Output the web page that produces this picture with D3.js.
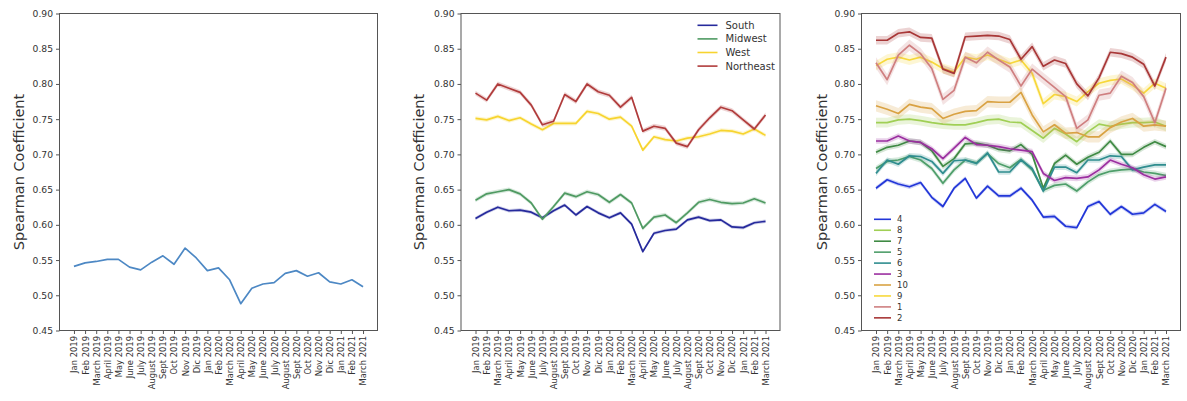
<!DOCTYPE html>
<html>
<head>
<meta charset="utf-8">
<script src="https://cdn.jsdelivr.net/npm/d3@7"></script>
<style>
  html, body { margin: 0; padding: 0; background: #fff; }
  svg { display: block; }
  text { font-family: "DejaVu Sans", sans-serif; }
</style>
</head>
<body>
<svg id="chart" width="1187" height="401"></svg>
<script>
// ---------- data ----------
const months = ["Jan 2019","Feb 2019","March 2019","April 2019","May 2019","June 2019","July 2019","August 2019","Sept 2019","Oct 2019","Nov 2019","Dic 2019","Jan 2020","Feb 2020","March 2020","April 2020","May 2020","June 2020","July 2020","August 2020","Sept 2020","Oct 2020","Nov 2020","Dic 2020","Jan 2021","Feb 2021","March 2021"];
const yTicks = [0.45, 0.50, 0.55, 0.60, 0.65, 0.70, 0.75, 0.80, 0.85, 0.90];
const yLabel = "Spearman Coefficient";

// panel 1 : all
const allValues = [0.541,0.546,0.548,0.551,0.551,0.540,0.536,0.547,0.556,0.544,0.567,0.553,0.535,0.539,0.522,0.488,0.510,0.516,0.518,0.531,0.535,0.527,0.532,0.519,0.516,0.522,0.512];

// panel 2 : regions
const regionNames = ["South","Midwest","West","Northeast"];
const south     = [0.609,0.618,0.625,0.620,0.621,0.618,0.610,0.620,0.628,0.614,0.626,0.617,0.610,0.617,0.601,0.562,0.588,0.592,0.594,0.607,0.611,0.606,0.607,0.597,0.596,0.603,0.605];
const midwest   = [0.635,0.644,0.647,0.650,0.644,0.631,0.608,0.626,0.645,0.640,0.647,0.643,0.632,0.643,0.631,0.595,0.611,0.614,0.603,0.617,0.632,0.636,0.632,0.630,0.631,0.637,0.631];
const west      = [0.751,0.749,0.754,0.748,0.752,0.743,0.735,0.744,0.744,0.744,0.761,0.758,0.750,0.753,0.740,0.706,0.725,0.721,0.719,0.723,0.725,0.729,0.734,0.733,0.729,0.736,0.727];
const northeast = [0.787,0.777,0.800,0.794,0.788,0.770,0.742,0.747,0.785,0.775,0.800,0.789,0.784,0.767,0.781,0.733,0.740,0.737,0.716,0.711,0.735,0.752,0.767,0.762,0.749,0.736,0.756];
const regionCI  = [0.0025,0.003,0.003,0.0035];

// panel 3 : clusters (legend order)
const clusterNames = ["4","8","7","5","6","3","10","9","1","2"];
const c4  = [0.652,0.664,0.658,0.654,0.660,0.639,0.626,0.652,0.666,0.638,0.655,0.641,0.641,0.652,0.635,0.611,0.612,0.598,0.596,0.626,0.633,0.615,0.626,0.615,0.617,0.629,0.619];
const c8  = [0.745,0.745,0.749,0.750,0.748,0.745,0.743,0.742,0.742,0.745,0.749,0.750,0.746,0.745,0.734,0.723,0.737,0.729,0.718,0.732,0.743,0.740,0.743,0.745,0.745,0.746,0.740];
const c7  = [0.703,0.710,0.713,0.719,0.717,0.705,0.683,0.694,0.715,0.716,0.713,0.707,0.705,0.714,0.700,0.652,0.687,0.699,0.686,0.696,0.703,0.719,0.700,0.700,0.710,0.718,0.711];
const c5  = [0.680,0.690,0.692,0.697,0.692,0.680,0.659,0.678,0.692,0.688,0.701,0.687,0.681,0.693,0.678,0.649,0.656,0.658,0.648,0.661,0.671,0.676,0.678,0.679,0.675,0.673,0.670];
const c6  = [0.673,0.692,0.686,0.698,0.697,0.690,0.673,0.691,0.692,0.687,0.702,0.675,0.675,0.692,0.680,0.648,0.682,0.682,0.674,0.692,0.692,0.698,0.697,0.678,0.682,0.685,0.685];
const c3  = [0.719,0.719,0.726,0.719,0.717,0.708,0.694,0.709,0.724,0.714,0.713,0.711,0.708,0.706,0.704,0.673,0.663,0.667,0.666,0.668,0.678,0.692,0.686,0.681,0.671,0.665,0.668];
const c10 = [0.769,0.764,0.758,0.771,0.767,0.765,0.751,0.757,0.761,0.762,0.775,0.774,0.774,0.788,0.756,0.732,0.742,0.730,0.731,0.725,0.725,0.738,0.746,0.751,0.740,0.742,0.740];
const c9  = [0.826,0.835,0.838,0.834,0.838,0.831,0.822,0.817,0.838,0.835,0.841,0.835,0.829,0.834,0.815,0.772,0.785,0.782,0.775,0.789,0.801,0.805,0.807,0.798,0.787,0.801,0.794];
const c1  = [0.830,0.806,0.841,0.855,0.843,0.822,0.778,0.791,0.838,0.830,0.845,0.834,0.824,0.797,0.821,0.808,0.795,0.782,0.737,0.749,0.784,0.787,0.811,0.802,0.782,0.745,0.794];
const c2  = [0.862,0.862,0.872,0.874,0.866,0.865,0.821,0.815,0.867,0.868,0.869,0.868,0.863,0.835,0.853,0.825,0.834,0.829,0.800,0.783,0.809,0.845,0.843,0.838,0.828,0.797,0.838];
const clusterCI = [0.003,0.007,0.004,0.004,0.004,0.004,0.008,0.007,0.008,0.006];

// ---------- styling ----------
const regionColors  = ["#262a9c","#4f9a62","#f7d42f","#b03b3b"];
const clusterColors = ["#2236d8","#a0cf55","#3f8a44","#4e9e6a","#2f8d8f","#9b2fa0","#d9a243","#f7d83b","#cf7f80","#a83737"];

const svg = d3.select("#chart");
const plotTop = 13.5, plotBottom = 330.5;

function drawPanel(p) {
  const g = svg.append("g");
  const x = d3.scaleLinear().domain([-1.3, months.length - 1 + 1.3]).range([p.left, p.right]);
  const y = d3.scaleLinear().domain([0.45, 0.90]).range([plotBottom, plotTop]);

  // series
  p.series.forEach((s, i) => {
    if (s.ci > 0) {
      const area = d3.area()
        .x((d, j) => x(j))
        .y0(d => y(d - s.ci))
        .y1(d => y(d + s.ci));
      g.append("path").datum(s.values)
        .attr("d", area)
        .attr("fill", s.color)
        .attr("fill-opacity", 0.22)
        .attr("stroke", "none");
    }
    const line = d3.line().x((d, j) => x(j)).y(d => y(d));
    g.append("path").datum(s.values)
      .attr("d", line)
      .attr("fill", "none")
      .attr("stroke", s.color)
      .attr("stroke-width", 1.7)
      .attr("stroke-linejoin", "round");
  });

  // frame
  g.append("rect")
    .attr("x", p.left).attr("y", plotTop)
    .attr("width", p.right - p.left).attr("height", plotBottom - plotTop)
    .attr("fill", "none").attr("stroke", "#555").attr("stroke-width", 1);

  // y axis
  const ya = d3.axisLeft(y).tickValues(yTicks).tickFormat(d3.format(".2f")).tickSize(3.5).tickPadding(3);
  const yg = g.append("g").attr("transform", `translate(${p.left},0)`).call(ya);
  yg.select(".domain").remove();
  yg.selectAll(".tick line").attr("stroke", "#555");
  yg.selectAll("text").attr("font-size", 9.2).attr("fill", "#333").attr("font-family", "DejaVu Sans");

  // x axis
  const xa = d3.axisBottom(x).tickValues(d3.range(months.length)).tickFormat(i => months[i]).tickSize(3.5).tickPadding(2);
  const xg = g.append("g").attr("transform", `translate(0,${plotBottom})`).call(xa);
  xg.select(".domain").remove();
  xg.selectAll(".tick line").attr("stroke", "#555");
  xg.selectAll("text")
    .attr("font-size", 8.4).attr("fill", "#333").attr("font-family", "DejaVu Sans")
    .attr("text-anchor", "end")
    .attr("dy", "0.35em")
    .attr("transform", "translate(0,3.5) rotate(-90)")
    .attr("x", -2).attr("y", 0);

  // y label
  g.append("text")
    .attr("transform", `translate(${p.labelX},${(plotTop + plotBottom) / 2}) rotate(-90)`)
    .attr("text-anchor", "middle")
    .attr("dy", "0.35em")
    .attr("font-size", 14.5)
    .attr("fill", "#333")
    .text(yLabel);

  // legend
  if (p.legend) {
    const L = p.legend;
    p.series.forEach((s, i) => {
      const yy = L.y + i * L.step;
      g.append("line")
        .attr("x1", L.x).attr("x2", L.x + L.len)
        .attr("y1", yy).attr("y2", yy)
        .attr("stroke", s.color).attr("stroke-width", 1.6);
      g.append("text")
        .attr("x", L.x + L.len + L.gap).attr("y", yy)
        .attr("dy", "0.35em")
        .attr("font-size", L.fs).attr("fill", "#333")
        .text(s.name);
    });
  }
}

drawPanel({
  left: 59.5, right: 377.5, labelX: 19,
  series: [{ name: "all", values: allValues, color: "#4d88c4", ci: 0 }]
});

const regionVals = [south, midwest, west, northeast];
drawPanel({
  left: 461, right: 780, labelX: 419,
  series: regionNames.map((n, i) => ({ name: n, values: regionVals[i], color: regionColors[i], ci: regionCI[i] })),
  legend: { x: 697.5, y: 25.3, step: 13.6, len: 20, gap: 8, fs: 10 }
});

const clusterVals = [c4, c8, c7, c5, c6, c3, c10, c9, c1, c2];
drawPanel({
  left: 861.5, right: 1180.5, labelX: 822,
  series: clusterNames.map((n, i) => ({ name: n, values: clusterVals[i], color: clusterColors[i], ci: clusterCI[i] })),
  legend: { x: 874, y: 219.3, step: 10.95, len: 17, gap: 6, fs: 8.5 }
});
</script>
</body>
</html>
